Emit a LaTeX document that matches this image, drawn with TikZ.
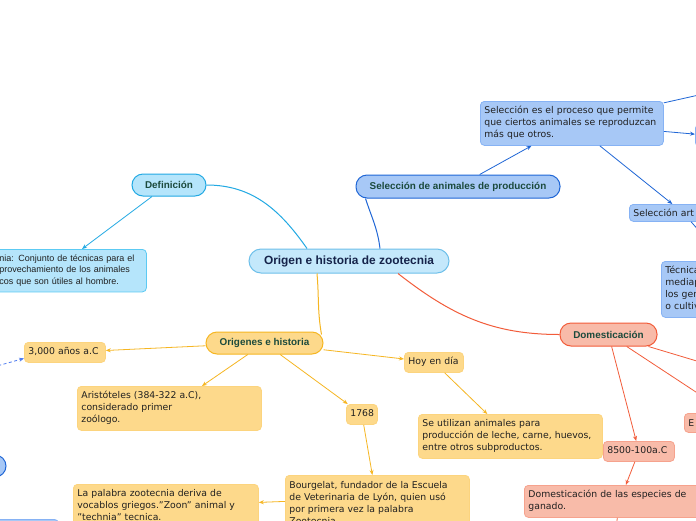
\documentclass[tikz,border=0pt]{standalone}
\usepackage{fontspec}
\setmainfont{DejaVu Sans}
\newfontfamily\labfont{Liberation Sans}
\usepackage{tikz}
\usetikzlibrary{calc, arrows.meta, positioning}

\definecolor{cenfill}{HTML}{C4E8FB}
\definecolor{cenbord}{HTML}{6EC0EA}
\definecolor{centxt}{HTML}{15234A}
\definecolor{toptxt}{HTML}{1B4A3C}
\definecolor{leaftxt}{HTML}{202020}
\definecolor{deffill}{HTML}{B5E5FB}
\definecolor{defbord}{HTML}{22A9E3}
\definecolor{defleaf}{HTML}{5CCAF3}
\definecolor{selfill}{HTML}{A7C8F6}
\definecolor{selbord}{HTML}{1F66D6}
\definecolor{selleaf}{HTML}{86B2F4}
\definecolor{origfill}{HTML}{FDD98B}
\definecolor{origbord}{HTML}{F6B622}
\definecolor{origleaf}{HTML}{FCD47E}
\definecolor{domfill}{HTML}{F8BBA9}
\definecolor{dombord}{HTML}{F25C3A}
\definecolor{domleaf}{HTML}{F6A28D}
\definecolor{dashblue}{HTML}{4F7CF0}

% lines of a leaf, kept unbroken
\newcommand{\leaflines}[1]{\begin{tabular}{@{}l@{}}#1\end{tabular}}

\begin{document}
\begin{tikzpicture}[x=1pt, y=-1pt, font=\fontsize{9.3}{12}\selectfont,
    topic/.style={draw, line width=1pt, rounded corners=11pt, inner sep=0pt,
      font=\labfont\bfseries\fontsize{9.9}{11}\selectfont, text=toptxt},
    leaf/.style={draw, line width=0.8pt, rounded corners=4pt, anchor=north west,
      align=left, inner sep=4pt, text=leaftxt},
    link/.style={line width=0.8pt, -{Stealth[length=5pt,width=4pt]}},
    branch/.style={line width=1pt}]
    \useasboundingbox (0,0) rectangle (696,520);
    \clip (0,0) rectangle (696,520);
    \fill[white] (0,0) rectangle (696,520);

    % main topic and branches
    \node[topic, fill=cenfill, draw=cenbord, rounded corners=12pt, minimum width=200, minimum height=24,
      text=centxt, font=\labfont\bfseries\fontsize{11.9}{13}\selectfont] (central) at (349,261) {Origen e historia de zootecnia};
    \node[topic, fill=deffill, draw=defbord, minimum width=74, minimum height=22] (def) at (169,185) {Definición};
    \node[topic, fill=selfill, draw=selbord, minimum width=204, minimum height=23] (sel) at (458,186.5) {Selección de animales de producción};
    \node[topic, fill=origfill, draw=origbord, minimum width=117, minimum height=22] (orig) at (264.5,343) {Origenes e historia};
    \node[topic, fill=domfill, draw=dombord, minimum width=97, minimum height=23] (dom) at (608.5,334.5) {Domesticación};
    \node[topic, fill=selfill, draw=selbord, minimum width=32, minimum height=22] (leftpill) at (-10,466) {};

    % leaves
    \node[leaf, fill=deffill, draw=defleaf, text width=143pt, minimum height=38,
      font=\labfont\fontsize{9}{11.5}\selectfont] (deftxt) at (-5,249)
      {\leaflines{nia: Conjunto de técnicas para el\\provechamiento de los animales\\cos que son útiles al hombre.}};
    \node[leaf, fill=selfill, draw=selleaf, text width=175pt, minimum height=40] (seltxt) at (480,101)
      {\leaflines{Selección es el proceso que permite\\que ciertos animales se reproduzcan\\más que otros.}};
    \node[leaf, fill=selfill, draw=selleaf, text width=100pt, minimum height=17] (selart) at (629,204) {Selección art};
    \node[leaf, fill=selfill, draw=selleaf, text width=60pt, minimum height=52] (tecnica) at (661,261)
      {\leaflines{Técnica\\mediap\\los gen\\o cultiv}};
    \node[leaf, fill=selfill, draw=selleaf, text width=20pt, minimum height=22] (rnode) at (695,124) {};
    \node[leaf, fill=selfill, draw=selleaf, text width=60pt, minimum height=20] (blnode) at (-10,519) {};

    \node[leaf, fill=origfill, draw=origleaf, text width=73pt, minimum height=18] (tres) at (24,342) {\leaflines{3,000 años a.C}};
    \node[leaf, fill=origfill, draw=origleaf, text width=176pt, minimum height=40] (aris) at (77,386)
      {\leaflines{Aristóteles (384-322 a.C),\\considerado primer\\zoólogo.}};
    \node[leaf, fill=origfill, draw=origleaf, text width=23pt, minimum height=17] (y1768) at (346,404) {\leaflines{1768}};
    \node[leaf, fill=origfill, draw=origleaf, text width=51pt, minimum height=18] (hoy) at (404,352) {\leaflines{Hoy en día}};
    \node[leaf, fill=origfill, draw=origleaf, text width=176pt, minimum height=40] (seutil) at (418,414)
      {\leaflines{Se utilizan animales para\\producción de leche, carne, huevos,\\entre otros subproductos.}};
    \node[leaf, fill=origfill, draw=origleaf, text width=176pt, minimum height=58] (bourg) at (285,475)
      {\leaflines{Bourgelat, fundador de la Escuela\\de Veterinaria de Lyón, quien usó\\por primera vez la palabra\\Zootecnia.}};
    \node[leaf, fill=origfill, draw=origleaf, text width=177pt, minimum height=44] (palabra) at (73,484)
      {\leaflines{La palabra zootecnia deriva de\\vocablos griegos."Zoon" animal y\\"technia" tecnica.}};

    \node[leaf, fill=domfill, draw=domleaf, text width=63pt, minimum height=18] (y8500) at (603,441) {\leaflines{8500-100a.C}};
    \node[leaf, fill=domfill, draw=domleaf, text width=182pt, minimum height=28] (domgan) at (524,485)
      {\leaflines{Domesticación de las especies de\\ganado.}};
    \node[leaf, fill=domfill, draw=domleaf, text width=22pt, minimum height=19] (enode) at (684,413) {E};

    % free ends outside the frame
    \coordinate (dashsrc) at (-60,382);
    \coordinate (selout) at (730,88);
    \coordinate (selout2) at (720,255);
    \coordinate (domout1) at (760,380);
    \coordinate (domout2) at (740,421);
    \coordinate (domout3) at (612,560);

    % branches
    \draw[branch, defbord] ($(central.north)+(-42,0)$) to[out=125,in=0] (def.east);
    \draw[branch, selbord] ($(central.north)+(31,0)$) to[out=97,in=-72] ($(sel.south west)+(10,0)$);
    \draw[branch, origbord] ($(central.south)+(-32,0)$) to[out=-85,in=100] ($(orig.north east)+(-2,3)$);
    \draw[branch, dombord] ($(central.south)+(49,0)$) to[out=-38,in=180] (dom.west);

    % links
    \draw[link, defbord] ($(def.south)+(-17,0)$) -- ($(deftxt.north west)+(87,0)$);
    \draw[link, selbord] (sel) -- (seltxt);
    \draw[link, selbord] (seltxt) -- (selart);
    \draw[link, selbord] (seltxt) -- (rnode);
    \draw[link, selbord] (seltxt) -- (selout);
    \draw[link, selbord] (selart) -- (selout2);
    \draw[link, origbord] (orig) -- (tres);
    \draw[link, origbord] (orig) -- (aris);
    \draw[link, origbord] (orig) -- (y1768);
    \draw[link, origbord] (orig) -- (hoy);
    \draw[link, origbord] (hoy) -- (seutil);
    \draw[link, origbord] (y1768) -- (bourg);
    \draw[link, origbord] ($(bourg.west)+(0,-3)$) -- ($(palabra.east)+(0,-4)$);
    \draw[link, dashblue, dash pattern=on 3pt off 2.5pt] (dashsrc) -- ($(tres.west)+(0,6)$);
    \draw[link, dombord] (dom) -- (y8500);
    \draw[link, dombord] (y8500) -- (domgan);
    \draw[link, dombord] (dom) -- (domout1);
    \draw[link, dombord] (dom) -- (domout2);
    \draw[link, dombord] (domgan) -- (domout3);
\end{tikzpicture}
\end{document}
